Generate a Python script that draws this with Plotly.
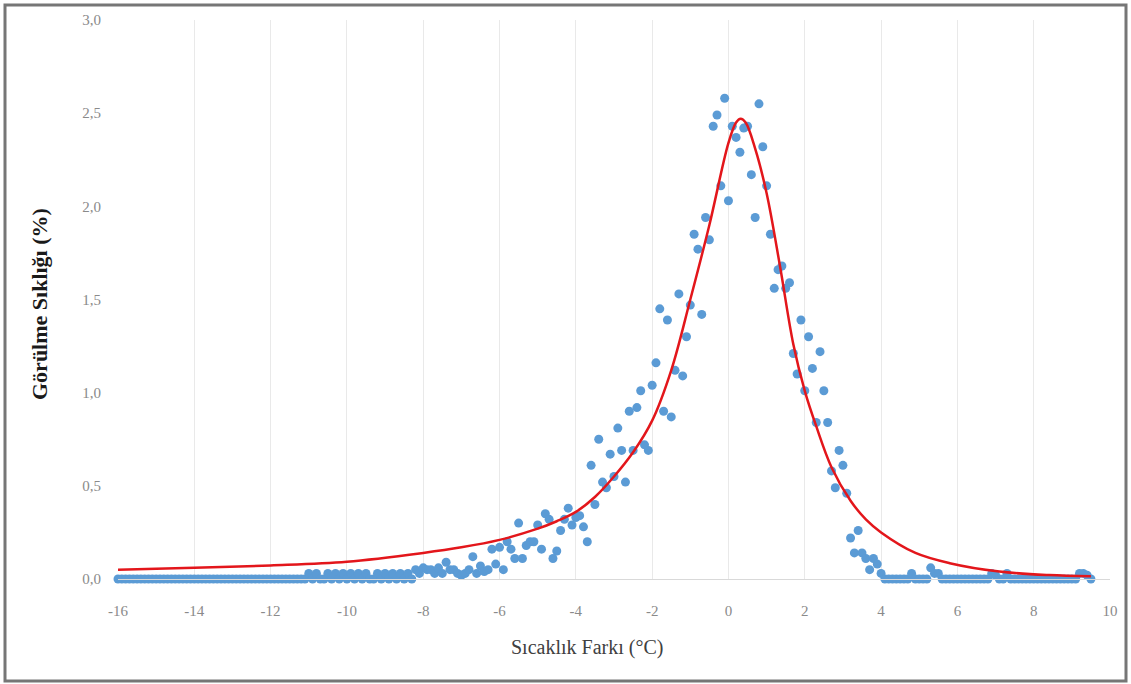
import plotly.graph_objects as go

# Observed frequency (%) per 0.1 °C bin
freq_x = [
    -16.0, -15.9, -15.8, -15.7, -15.6, -15.5, -15.4, -15.3, -15.2, -15.1,
    -15.0, -14.9, -14.8, -14.7, -14.6, -14.5, -14.4, -14.3, -14.2, -14.1,
    -14.0, -13.9, -13.8, -13.7, -13.6, -13.5, -13.4, -13.3, -13.2, -13.1,
    -13.0, -12.9, -12.8, -12.7, -12.6, -12.5, -12.4, -12.3, -12.2, -12.1,
    -12.0, -11.9, -11.8, -11.7, -11.6, -11.5, -11.4, -11.3, -11.2, -11.1,
    -11.0, -10.9, -10.8, -10.7, -10.6, -10.5, -10.4, -10.3, -10.2, -10.1,
    -10.0, -9.9, -9.8, -9.7, -9.6, -9.5, -9.4, -9.3, -9.2, -9.1,
    -9.0, -8.9, -8.8, -8.7, -8.6, -8.5, -8.4, -8.3, -8.2, -8.1,
    -8.0, -7.9, -7.8, -7.7, -7.6, -7.5, -7.4, -7.3, -7.2, -7.1,
    -7.0, -6.9, -6.8, -6.7, -6.6, -6.5, -6.4, -6.3, -6.2, -6.1,
    -6.0, -5.9, -5.8, -5.7, -5.6, -5.5, -5.4, -5.3, -5.2, -5.1,
    -5.0, -4.9, -4.8, -4.7, -4.6, -4.5, -4.4, -4.3, -4.2, -4.1,
    -4.0, -3.9, -3.8, -3.7, -3.6, -3.5, -3.4, -3.3, -3.2, -3.1,
    -3.0, -2.9, -2.8, -2.7, -2.6, -2.5, -2.4, -2.3, -2.2, -2.1,
    -2.0, -1.9, -1.8, -1.7, -1.6, -1.5, -1.4, -1.3, -1.2, -1.1,
    -1.0, -0.9, -0.8, -0.7, -0.6, -0.5, -0.4, -0.3, -0.2, -0.1,
    0.0, 0.1, 0.2, 0.3, 0.4, 0.5, 0.6, 0.7, 0.8, 0.9,
    1.0, 1.1, 1.2, 1.3, 1.4, 1.5, 1.6, 1.7, 1.8, 1.9,
    2.0, 2.1, 2.2, 2.3, 2.4, 2.5, 2.6, 2.7, 2.8, 2.9,
    3.0, 3.1, 3.2, 3.3, 3.4, 3.5, 3.6, 3.7, 3.8, 3.9,
    4.0, 4.1, 4.2, 4.3, 4.4, 4.5, 4.6, 4.7, 4.8, 4.9,
    5.0, 5.1, 5.2, 5.3, 5.4, 5.5, 5.6, 5.7, 5.8, 5.9,
    6.0, 6.1, 6.2, 6.3, 6.4, 6.5, 6.6, 6.7, 6.8, 6.9,
    7.0, 7.1, 7.2, 7.3, 7.4, 7.5, 7.6, 7.7, 7.8, 7.9,
    8.0, 8.1, 8.2, 8.3, 8.4, 8.5, 8.6, 8.7, 8.8, 8.9,
    9.0, 9.1, 9.2, 9.3, 9.4, 9.5,
]
freq_y = [
    0, 0, 0, 0, 0, 0, 0, 0, 0, 0,
    0, 0, 0, 0, 0, 0, 0, 0, 0, 0,
    0, 0, 0, 0, 0, 0, 0, 0, 0, 0,
    0, 0, 0, 0, 0, 0, 0, 0, 0, 0,
    0, 0, 0, 0, 0, 0, 0, 0, 0, 0,
    0.03, 0, 0.03, 0, 0, 0.03, 0, 0.03, 0, 0.03,
    0, 0.03, 0, 0.03, 0, 0.03, 0, 0, 0.03, 0,
    0.03, 0, 0.03, 0, 0.03, 0, 0.03, 0, 0.05, 0.03,
    0.06, 0.05, 0.05, 0.03, 0.06, 0.03, 0.09, 0.05, 0.05, 0.03,
    0.02, 0.03, 0.05, 0.12, 0.03, 0.07, 0.04, 0.05, 0.16, 0.08,
    0.17, 0.05, 0.20, 0.16, 0.11, 0.30, 0.11, 0.18, 0.20, 0.20,
    0.29, 0.16, 0.35, 0.32, 0.11, 0.15, 0.26, 0.32, 0.38, 0.29,
    0.33, 0.34, 0.28, 0.20, 0.61, 0.40, 0.75, 0.52, 0.49, 0.67,
    0.55, 0.81, 0.69, 0.52, 0.90, 0.69, 0.92, 1.01, 0.72, 0.69,
    1.04, 1.16, 1.45, 0.90, 1.39, 0.87, 1.12, 1.53, 1.09, 1.30,
    1.47, 1.85, 1.77, 1.42, 1.94, 1.82, 2.43, 2.49, 2.11, 2.58,
    2.03, 2.43, 2.37, 2.29, 2.42, 2.43, 2.17, 1.94, 2.55, 2.32,
    2.11, 1.85, 1.56, 1.66, 1.68, 1.56, 1.59, 1.21, 1.10, 1.39,
    1.01, 1.30, 1.13, 0.84, 1.22, 1.01, 0.84, 0.58, 0.49, 0.69,
    0.61, 0.46, 0.22, 0.14, 0.26, 0.14, 0.11, 0.05, 0.11, 0.08,
    0.03, 0, 0, 0, 0, 0, 0, 0, 0.03, 0,
    0, 0, 0, 0.06, 0.03, 0.03, 0, 0, 0, 0,
    0, 0, 0, 0, 0, 0, 0, 0, 0, 0.03,
    0.02, 0, 0, 0.03, 0, 0, 0, 0, 0, 0,
    0, 0, 0, 0, 0, 0, 0, 0, 0, 0,
    0, 0, 0.03, 0.03, 0.02, 0,
]

# Fitted distribution curve
fit_x = [-16, -14, -12, -10, -8, -7, -6, -5, -4.5, -4, -3.5, -3, -2.5, -2, -1.5,
         -1, -0.5, 0, 0.2, 0.32, 0.45, 0.7, 1.0, 1.35, 1.7, 2.0, 2.3, 2.7, 3.2,
         3.6, 4.0, 4.9, 5.8, 7.1, 8.4, 9.5]
fit_y = [0.05, 0.06, 0.073, 0.093, 0.14, 0.17, 0.21, 0.27, 0.31, 0.36, 0.44, 0.55,
         0.68, 0.85, 1.12, 1.5, 1.9, 2.34, 2.45, 2.47, 2.45, 2.31, 2.07, 1.68, 1.26,
         1.01, 0.82, 0.60, 0.42, 0.32, 0.25, 0.14, 0.085, 0.04, 0.021, 0.015]

x_ticks = [-16, -14, -12, -10, -8, -6, -4, -2, 0, 2, 4, 6, 8, 10]
y_ticks = [0, 0.5, 1.0, 1.5, 2.0, 2.5, 3.0]
y_tick_text = ["0,0", "0,5", "1,0", "1,5", "2,0", "2,5", "3,0"]

SERIF = "Liberation Serif, Times New Roman, serif"

fig = go.Figure()
fig.add_trace(go.Scatter(
    x=freq_x, y=freq_y, mode="markers",
    marker=dict(color="#5b9bd5", size=9, line=dict(width=0)),
    showlegend=False, cliponaxis=False,
))
fig.add_trace(go.Scatter(
    x=fit_x, y=fit_y, mode="lines",
    line=dict(color="#e3161b", width=2.5, shape="spline", smoothing=1.0),
    showlegend=False,
))

fig.update_layout(
    width=1131, height=684,
    margin=dict(l=118, r=21, t=20, b=105),
    paper_bgcolor="white", plot_bgcolor="white",
    font=dict(family=SERIF),
    xaxis=dict(
        range=[-16, 10], tickvals=x_ticks, ticktext=[str(v) for v in x_ticks],
        showgrid=True, gridcolor="#e9e9e9", gridwidth=1,
        zeroline=False, showline=True, linecolor="#d9d9d9", linewidth=1,
        ticks="", ticklabelstandoff=18,
        tickfont=dict(family=SERIF, size=15, color="#8a8a8a"),
    ),
    yaxis=dict(
        range=[0, 3], tickvals=y_ticks, ticktext=y_tick_text,
        showgrid=False, zeroline=False, showline=False,
        ticks="", ticklabelstandoff=16,
        tickfont=dict(family=SERIF, size=15, color="#8a8a8a"),
    ),
    annotations=[
        dict(text="Sıcaklık Farkı (°C)", x=0.4728, y=-0.1234, xref="paper", yref="paper",
             showarrow=False, xanchor="center", yanchor="middle",
             font=dict(family=SERIF, size=20, color="#404040")),
        dict(text="<b>Görülme Sıklığı (%)</b>", x=-0.0786, y=0.492, xref="paper", yref="paper",
             showarrow=False, xanchor="center", yanchor="middle", textangle=-90,
             font=dict(family=SERIF, size=22, color="#1a1a1a")),
    ],
    shapes=[
        dict(type="rect", xref="paper", yref="paper",
             x0=(5 - 118) / 992, x1=(1126 - 118) / 992,
             y0=(579 - 681) / 559, y1=(579 - 5) / 559,
             line=dict(color="#767676", width=3), fillcolor="rgba(0,0,0,0)", layer="below"),
    ],
)

fig.write_html("out.html")
